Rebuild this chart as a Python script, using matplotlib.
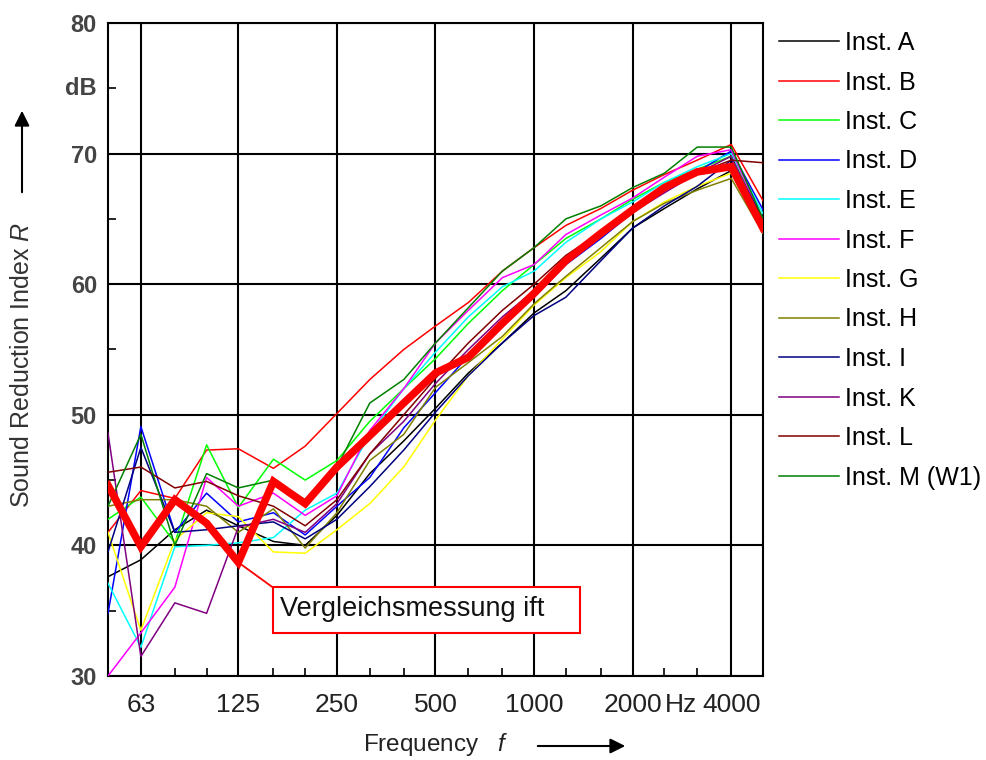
import matplotlib
matplotlib.use("Agg")
import matplotlib.pyplot as plt
from matplotlib import font_manager
from matplotlib.font_manager import FontProperties
from matplotlib.patches import FancyArrowPatch, Rectangle
from matplotlib.ticker import FixedLocator, NullFormatter

plt.rcParams["font.family"] = ["Liberation Sans", "DejaVu Sans"]
plt.rcParams["mathtext.fontset"] = "custom"
plt.rcParams["mathtext.it"] = "Liberation Sans:italic"
plt.rcParams["mathtext.rm"] = "Liberation Sans"

# third-octave bands, Hz
freqs = [50, 63, 80, 100, 125, 160, 200, 250, 315, 400, 500,
         630, 800, 1000, 1250, 1600, 2000, 2500, 3150, 4000, 5000]
major_freqs = [63, 125, 250, 500, 1000, 2000, 4000]
major_labels = ["63", "125", "250", "500", "1000", "2000", "4000"]
y_major = [30, 40, 50, 60, 70, 80]
y_minor = [35, 45, 55, 65, 75]

labels = ["Inst. A", "Inst. B", "Inst. C", "Inst. D", "Inst. E", "Inst. F",
          "Inst. G", "Inst. H", "Inst. I", "Inst. K", "Inst. L", "Inst. M (W1)"]
colors = ["#000000", "#ff0000", "#00ff00", "#0000ff", "#00ffff", "#ff00ff",
          "#ffff00", "#808000", "#000080", "#800080", "#800000", "#008000"]

inst_a = [37.6, 38.9, 41.2, 42.7, 41.5, 40.3, 40.0, 42.3, 45.5, 48.0, 50.5,
          53.2, 55.5, 57.8, 59.5, 62.0, 64.3, 65.8, 67.3, 68.7, 64.5]
inst_b = [41.0, 44.2, 43.6, 47.3, 47.4, 45.9, 47.6, 50.1, 52.7, 55.0, 56.8,
          58.6, 61.0, 62.8, 64.5, 65.8, 67.2, 68.4, 69.5, 70.7, 66.4]
inst_c = [42.0, 43.7, 40.2, 47.7, 42.9, 46.6, 45.0, 46.5, 49.5, 52.0, 54.3,
          57.0, 59.5, 61.5, 63.5, 65.0, 66.5, 67.8, 68.8, 69.8, 65.0]
inst_d = [34.8, 49.1, 41.0, 44.0, 41.8, 42.5, 40.8, 43.0, 45.2, 49.0, 51.7,
          54.5, 57.0, 59.0, 61.5, 63.5, 65.5, 67.2, 68.6, 70.2, 65.7]
inst_e = [37.1, 32.2, 39.9, 40.0, 40.2, 40.6, 42.7, 44.0, 48.5, 52.0, 54.8,
          57.5, 59.8, 61.0, 63.2, 65.0, 66.3, 67.8, 69.0, 70.0, 65.4]
inst_f = [30.0, 33.3, 36.8, 45.2, 43.0, 44.0, 42.3, 43.8, 48.8, 52.0, 55.5,
          58.0, 60.5, 61.5, 63.8, 65.3, 66.6, 68.2, 69.8, 70.3, 64.8]
inst_g = [41.0, 33.5, 40.4, 42.5, 42.2, 39.5, 39.4, 41.2, 43.2, 46.0, 49.6,
          53.0, 55.8, 58.4, 60.5, 62.5, 64.8, 66.3, 67.5, 68.5, 64.2]
inst_h = [43.0, 43.5, 43.5, 43.0, 41.0, 42.8, 39.8, 42.5, 46.5, 48.5, 52.1,
          54.0, 56.0, 58.5, 60.6, 62.8, 64.8, 66.2, 67.2, 68.1, 63.9]
inst_i = [39.5, 47.5, 41.0, 41.2, 41.5, 41.8, 40.5, 42.0, 44.5, 47.3, 50.2,
          53.0, 55.5, 57.6, 59.0, 61.8, 64.3, 66.0, 67.5, 69.5, 65.0]
inst_k = [48.6, 31.5, 35.6, 34.8, 41.4, 42.0, 41.0, 43.2, 47.0, 49.5, 52.4,
          55.0, 57.5, 59.5, 61.8, 63.8, 65.5, 67.0, 68.5, 69.8, 64.6]
inst_l = [45.6, 46.0, 44.4, 44.9, 43.8, 43.0, 41.5, 43.5, 47.0, 50.0, 52.8,
          55.5, 58.0, 60.0, 62.2, 64.0, 65.8, 67.2, 68.5, 69.5, 69.3]
inst_m = [43.0, 48.5, 40.0, 45.5, 44.4, 45.0, 43.5, 46.0, 50.9, 52.7, 55.5,
          58.2, 61.0, 62.8, 65.0, 66.0, 67.4, 68.5, 70.5, 70.5, 65.0]
series = [inst_a, inst_b, inst_c, inst_d, inst_e, inst_f,
          inst_g, inst_h, inst_i, inst_k, inst_l, inst_m]

# comparison measurement (thick red)
ift = [44.6, 39.9, 43.5, 41.7, 38.7, 44.9, 43.2, 46.0, 48.4, 50.9, 53.2,
       54.4, 57.0, 59.3, 61.8, 63.9, 65.7, 67.4, 68.6, 69.0, 64.3]


def _pick_family(name, fallback):
    try:
        font_manager.findfont(FontProperties(family=name), fallback_to_default=False)
        return name
    except ValueError:
        return fallback


narrow = _pick_family("Liberation Sans Narrow", "Liberation Sans")

fig = plt.figure(figsize=(9.86, 7.6), dpi=100)
ax = fig.add_axes([108 / 986, 84 / 760, 655 / 986, 653 / 760])

for vals, col, lab in zip(series, colors, labels):
    ax.plot(freqs, vals, color=col, lw=1.1, label=lab, zorder=3)
ax.plot(freqs, ift, color="#ff0000", lw=5.5, solid_joinstyle="miter", zorder=5)

ax.set_xscale("log")
ax.set_xlim(50, 5000)
ax.set_ylim(30, 80)

ax.set_xticks(major_freqs)
ax.set_xticklabels(major_labels, family=narrow, fontsize=19, color="#222222")
ax.xaxis.set_minor_locator(FixedLocator([f for f in freqs if f not in major_freqs]))
ax.xaxis.set_minor_formatter(NullFormatter())
ax.set_yticks(y_major)
ax.set_yticklabels([str(v) for v in y_major], family=narrow, fontsize=17,
                   fontweight="bold", color="#444444")
ax.yaxis.set_minor_locator(FixedLocator(y_minor))

ax.tick_params(which="major", length=0, pad=8)
ax.tick_params(axis="x", which="major", pad=12)
ax.tick_params(which="minor", direction="in", length=6, width=1.2, color="black")
ax.grid(True, which="major", color="black", lw=1.5)
for sp in ax.spines.values():
    sp.set_linewidth(1.5)

# "dB" in place of the 75 tick label, "Hz" between 2000 and 4000
ax.annotate("dB", xy=(0, 75), xycoords=("axes fraction", "data"),
            xytext=(-8, 0), textcoords="offset points", ha="right", va="center",
            family=narrow, fontsize=17, fontweight="bold", color="#444444")
ax.annotate("Hz", xy=(2800, 0), xycoords=("data", "axes fraction"),
            xytext=(0, -12), textcoords="offset points", ha="center", va="top",
            family=narrow, fontsize=19, color="#222222")

fig.text(22 / 986, 1 - 365 / 760, "Sound Reduction Index $\\mathit{R}$", rotation=90,
         ha="center", va="center", fontsize=18, color="#333333")
fig.text(436 / 986, 1 - 745 / 760, "Frequency   $\\mathit{f}$", ha="center", va="center",
         fontsize=17.5, color="#222222")
fig.add_artist(FancyArrowPatch(
    (22 / 986, 1 - 195 / 760), (22 / 986, 1 - 108 / 760), transform=fig.transFigure,
    arrowstyle="-|>,head_length=6,head_width=3", lw=1.5, color="black",
    mutation_scale=1.5))
fig.add_artist(FancyArrowPatch(
    (535 / 986, 1 - 746 / 760), (628 / 986, 1 - 746 / 760), transform=fig.transFigure,
    arrowstyle="-|>,head_length=6,head_width=3", lw=1.5, color="black",
    mutation_scale=1.5))

# annotation box for the comparison measurement
box_x0, box_x1 = 159, 1378
box_y0, box_y1 = 33.3, 36.8
ax.add_patch(Rectangle((box_x0, box_y0), box_x1 - box_x0, box_y1 - box_y0,
                       fc="white", ec="#ff0000", lw=1.5, zorder=6))
ax.plot([125, box_x0], [38.7, box_y1], color="#ff0000", lw=1.3, zorder=6)
ax.text(167, (box_y0 + box_y1) / 2 + 0.1, "Vergleichsmessung ift", fontsize=19.5,
        color="#111111", ha="left", va="center", zorder=7)

fig.legend(loc="upper left", bbox_to_anchor=(779 / 986, 1 - 31 / 760),
           frameon=False, fontsize=18, handlelength=2.4, handletextpad=0.25,
           labelspacing=0.62, borderpad=0, borderaxespad=0)

fig.savefig("out.png", dpi=100)
